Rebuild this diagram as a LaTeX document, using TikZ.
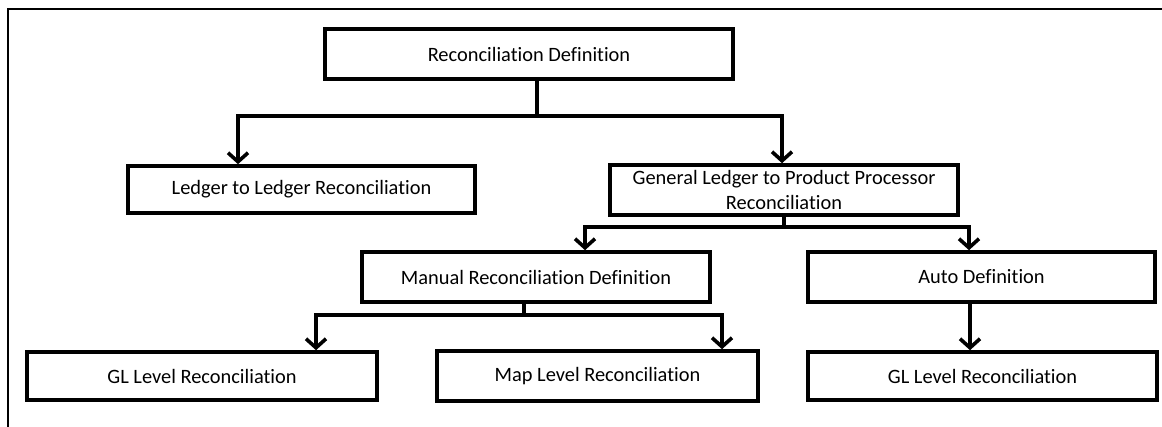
\documentclass[tikz,border=0pt]{standalone}
\usepackage{fontspec}
\setmainfont{Carlito}[Ligatures={NoCommon}]
\usetikzlibrary{arrows.meta}
\begin{document}
\begin{tikzpicture}[x=1pt, y=-1pt,
    box/.style={draw, line width=3.6pt, inner sep=0pt, align=center,
        font=\fontsize{20.4}{25}\selectfont},
    link/.style={line width=3.6pt, line join=miter},
    arr/.style={link, -{Straight Barb[length=9pt, width=20pt]}}]
    \useasboundingbox (0,0) rectangle (1162,427);
    \draw [line width=2pt] (1162,9) -- (8,9) -- (8,427);
    \node [box, minimum width=408, minimum height=50] (recdef) at (529,54) {Reconciliation Definition};
    \node [box, minimum width=347, minimum height=47] (ledger) at (301.5,189.5) {Ledger to Ledger Reconciliation};
    \node [box, minimum width=348, minimum height=50] (glpp) at (784,190) {General Ledger to Product Processor\\Reconciliation};
    \node [box, minimum width=348, minimum height=50] (manual) at (536,277) {Manual Reconciliation Definition};
    \node [box, minimum width=347, minimum height=50] (auto) at (981.5,277) {Auto Definition};
    \node [box, minimum width=350, minimum height=48] (glmanual) at (202,376) {GL Level Reconciliation};
    \node [box, minimum width=321, minimum height=50] (maplevel) at (597.5,376) {Map Level Reconciliation};
    \node [box, minimum width=349, minimum height=48] (glauto) at (982.5,376) {GL Level Reconciliation};
    \coordinate (j1) at (537,116);
    \coordinate (j2) at (784,227);
    \coordinate (j3) at (524,315);
    \draw [link] (j1 |- recdef.south) -- (j1);
    \draw [arr] (j1) -| ([xshift=-63.5]ledger.north);
    \draw [arr] (j1) -| ([xshift=-2]glpp.north);
    \draw [link] (glpp.south) -- (j2);
    \draw [arr] (j2) -| ([xshift=49]manual.north);
    \draw [arr] (j2) -| ([xshift=-12.5]auto.north);
    \draw [link] (j3 |- manual.south) -- (j3);
    \draw [arr] (j3) -| ([xshift=114]glmanual.north);
    \draw [arr] (j3) -| ([xshift=124.5]maplevel.north);
    \draw [arr] ([xshift=-11.5]auto.south) -- ([xshift=-12.5]glauto.north);
\end{tikzpicture}
\end{document}
